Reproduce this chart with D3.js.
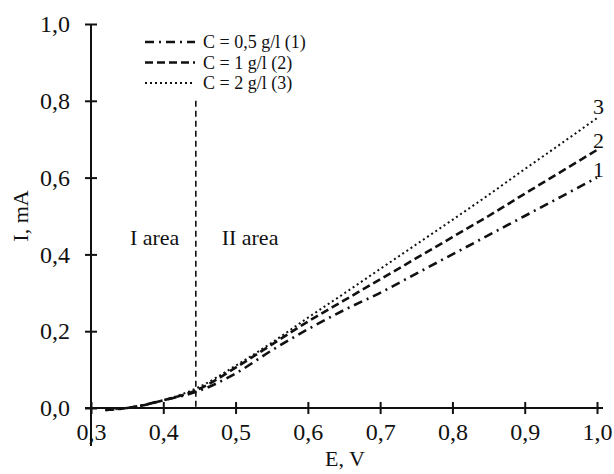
<!DOCTYPE html>
<html>
<head>
<meta charset="utf-8">
<script src="https://cdn.jsdelivr.net/npm/d3@7"></script>
<style>
  body { margin: 0; background: #fff; }
  svg text { font-family: "Liberation Serif", "DejaVu Serif", serif; fill: #111; }
</style>
</head>
<body>
<svg id="chart" width="614" height="474"></svg>
<script>
// data
const potential = [0.32, 0.35, 0.4, 0.45, 0.5, 0.55, 0.6, 0.65, 0.7, 0.75, 0.8, 0.85, 0.9, 0.95, 1.0];
const current1 = [-0.005, 0.0, 0.02, 0.045, 0.09, 0.15, 0.205, 0.255, 0.3, 0.35, 0.4, 0.45, 0.5, 0.55, 0.6];
const current2 = [-0.005, 0.0, 0.02, 0.05, 0.105, 0.165, 0.225, 0.28, 0.335, 0.39, 0.445, 0.5, 0.558, 0.615, 0.672];
const current3 = [-0.005, 0.0, 0.02, 0.055, 0.11, 0.17, 0.235, 0.298, 0.362, 0.426, 0.49, 0.555, 0.622, 0.688, 0.755];
const seriesNames = ["C = 0,5 g/l (1)", "C = 1 g/l (2)", "C = 2 g/l (3)"];
const seriesTags = ["1", "2", "3"];
const xTicks = [0.3, 0.4, 0.5, 0.6, 0.7, 0.8, 0.9, 1.0];
const yTicks = [0, 0.2, 0.4, 0.6, 0.8, 1.0];
const boundary = 0.445;
const boundaryTop = 0.8;
const areaLabels = [{ text: "I area", e: 0.388 }, { text: "II area", e: 0.52 }];

const svg = d3.select("#chart");
const x = d3.scaleLinear().domain([0.3, 1.0]).range([91, 597]);
const y = d3.scaleLinear().domain([0, 1.0]).range([408, 24]);
const comma = d => d3.format(".1f")(d).replace(".", ",");
const tickFont = "24px";
const labelFont = "22px";
const legendFont = "18px";

const dashes = ["9,5,2,5", "8,4", "2,3"];
const values = [current1, current2, current3];

// axes
const xAxis = d3.axisBottom(x).tickValues(xTicks).tickFormat(comma).tickSize(6).tickPadding(9);
const yAxis = d3.axisLeft(y).tickValues(yTicks).tickFormat(comma).tickSize(6).tickPadding(15);

const gx = svg.append("g").attr("transform", `translate(0,${y(0)})`).call(xAxis);
const gy = svg.append("g").attr("transform", `translate(${x(0.3)},0)`).call(yAxis);

[gx, gy].forEach(g => {
  g.select(".domain").remove();
  g.attr("font-family", null).attr("font-size", null);
  g.selectAll("text").style("font-size", tickFont).attr("fill", "#111");
});
gx.selectAll(".tick line").attr("y1", -6).attr("y2", 6).attr("stroke", "#111").attr("stroke-width", 2);
gy.selectAll(".tick line").attr("x1", -6).attr("x2", 6).attr("stroke", "#111").attr("stroke-width", 2);

svg.append("line")
  .attr("x1", x(0.3) - 6).attr("x2", x(1.0) + 6)
  .attr("y1", y(0)).attr("y2", y(0))
  .attr("stroke", "#111").attr("stroke-width", 2);
svg.append("line")
  .attr("x1", x(0.3)).attr("x2", x(0.3))
  .attr("y1", y(1.0)).attr("y2", y(0) + 38)
  .attr("stroke", "#111").attr("stroke-width", 2);

// axis titles
svg.append("text").attr("x", 345).attr("y", 466).attr("text-anchor", "middle")
  .style("font-size", labelFont).text("E, V");
svg.append("text").attr("transform", "translate(28,216) rotate(-90)").attr("text-anchor", "middle")
  .style("font-size", labelFont).text("I, mA");

// boundary between areas
svg.append("line")
  .attr("x1", x(boundary)).attr("x2", x(boundary))
  .attr("y1", y(boundaryTop)).attr("y2", y(0))
  .attr("stroke", "#111").attr("stroke-width", 1.6).attr("stroke-dasharray", "6,4");

svg.selectAll(".area-label").data(areaLabels).join("text")
  .attr("class", "area-label")
  .attr("x", d => x(d.e)).attr("y", 245).attr("text-anchor", "middle")
  .style("font-size", labelFont).text(d => d.text);

// curves
const line = d3.line().x(d => x(d[0])).y(d => y(d[1])).curve(d3.curveMonotoneX);
values.forEach((vals, i) => {
  const pts = potential.map((e, k) => [e, vals[k]]);
  svg.append("path").datum(pts)
    .attr("d", line)
    .attr("fill", "none").attr("stroke", "#111")
    .attr("stroke-width", i === 2 ? 2 : 2.6)
    .attr("stroke-dasharray", dashes[i]);
  const last = pts[pts.length - 1];
  svg.append("text")
    .attr("x", x(last[0]) - 4).attr("y", y(last[1]) - 8 - i * 2).attr("dy", "0.35em")
    .style("font-size", labelFont).text(seriesTags[i]);
});

// legend
const legend = svg.append("g").attr("transform", "translate(145,42)");
seriesNames.forEach((name, i) => {
  const row = legend.append("g").attr("transform", `translate(0,${i * 20.5})`);
  row.append("line").attr("x1", 0).attr("x2", 50).attr("y1", 0).attr("y2", 0)
    .attr("stroke", "#111").attr("stroke-width", i === 2 ? 2 : 2.6)
    .attr("stroke-dasharray", dashes[i]);
  row.append("text").attr("x", 58).attr("y", 0).attr("dy", "0.35em")
    .style("font-size", legendFont).text(name);
});
</script>
</body>
</html>
